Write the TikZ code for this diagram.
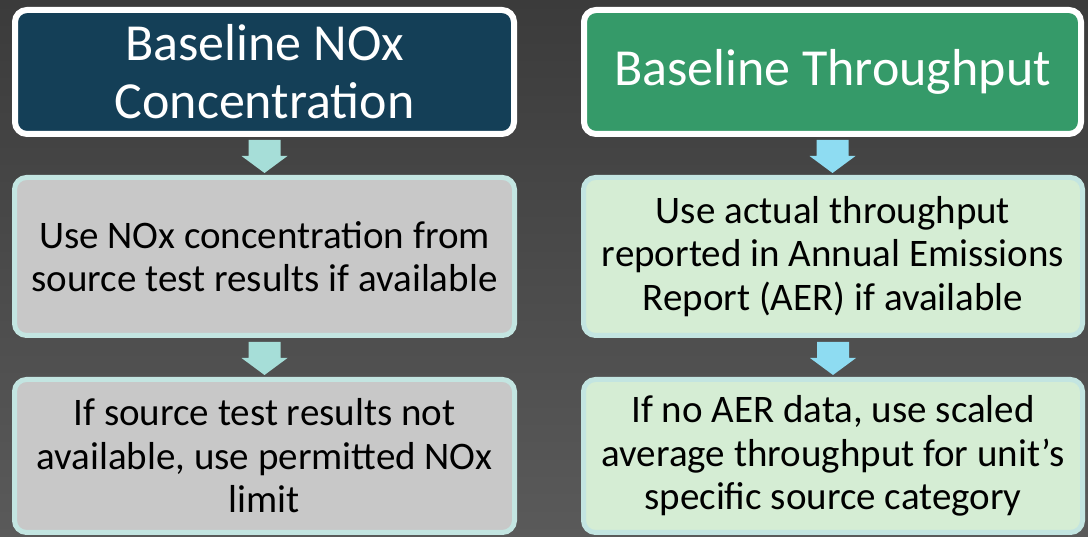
\documentclass[tikz,border=0pt]{standalone}
\usepackage{fontspec}
\setmainfont{Carlito}
\usetikzlibrary{calc}
\definecolor{bgtop}{HTML}{3B3B3B}
\definecolor{bgbot}{HTML}{5A5A5A}
\definecolor{navy}{HTML}{143F57}
\definecolor{grn}{HTML}{359A69}
\definecolor{grayfill}{HTML}{C8C8C8}
\definecolor{grnfill}{HTML}{D5EDD4}
\definecolor{cyanborder}{HTML}{C3E5E1}
\definecolor{arrowL}{HTML}{A6DED8}
\definecolor{arrowR}{HTML}{8EDCF2}
\tikzset{
  titlebox/.style={draw=white, line width=6pt, rounded corners=12pt, inner sep=0pt, outer sep=0pt,
    text=white, align=center, font=\fontsize{52}{58}\selectfont},
  bodybox/.style={draw=cyanborder, line width=5pt, rounded corners=12pt, inner sep=0pt, outer sep=0pt,
    text=black, align=center, font=\fontsize{39}{43.5}\selectfont},
}
\newcommand{\flowarrow}[4]{% #1 colour, #2 from node, #3 to node, #4 offset below from-anchor
  \fill[#1] let \p1=($(#2.south)+(0,-#4)$), \p2=($(#3.north)+(0,4.5)$) in
    (\x1-16,\y1) -- (\x1+16,\y1) -- (\x1+16,\y2+17) -- (\x1+23,\y2+17) -- (\x1,\y2)
    -- (\x1-23,\y2+17) -- (\x1-16,\y2+17) -- cycle;}
\begin{document}
\begin{tikzpicture}[x=1pt,y=1pt]
\shade[top color=bgtop, bottom color=bgbot] (0,0) rectangle (1088,537);
\useasboundingbox (0,0) rectangle (1088,537);
% left column
\node[titlebox, fill=navy, minimum width=499pt, minimum height=124pt] (l1) at (264.5,465)
  {Baseline NOx\\Concentration};
\node[bodybox, fill=grayfill, minimum width=500pt, minimum height=158pt] (l2) at (264.5,280.5)
  {Use NOx concentration from\\source test results if available};
\node[bodybox, fill=grayfill, minimum width=500pt, minimum height=153pt] (l3) at (264.5,81)
  {If source test results not\\available, use permitted NOx\\limit};
% right column
\node[titlebox, fill=grn, minimum width=497pt, minimum height=124pt] (r1) at (832.5,465)
  {Baseline Throughput};
\node[bodybox, fill=grnfill, minimum width=499pt, minimum height=158pt] (r2) at (833,280.5)
  {Use actual throughput\\reported in Annual Emissions\\Report (AER) if available};
\node[bodybox, fill=grnfill, minimum width=499pt, minimum height=153pt] (r3) at (833,81)
  {If no AER data, use scaled\\average throughput for unit’s\\specific source category};
% arrows
\flowarrow{arrowL}{l1}{l2}{6}
\flowarrow{arrowL}{l2}{l3}{6.5}
\flowarrow{arrowR}{r1}{r2}{6}
\flowarrow{arrowR}{r2}{r3}{6.5}
\end{tikzpicture}
\end{document}
